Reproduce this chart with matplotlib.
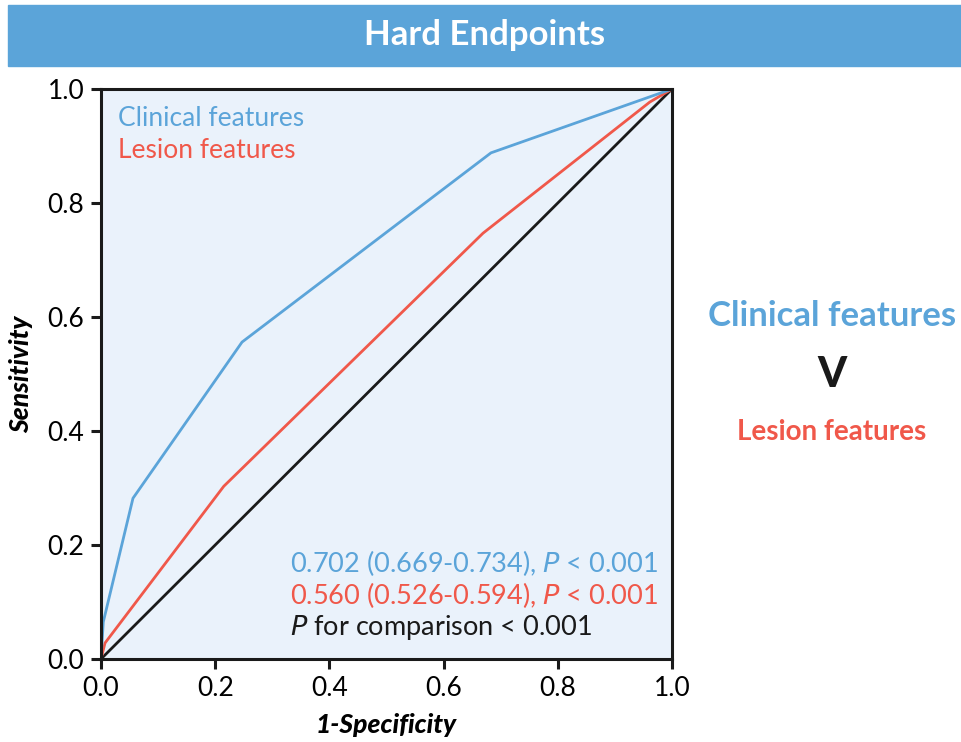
import matplotlib
matplotlib.use("Agg")
import matplotlib.pyplot as plt
from matplotlib.patches import Rectangle

plt.rcParams['font.family'] = ['Lato', 'DejaVu Sans']

BLUE = '#5BA4D9'
RED = '#F0584A'
BG = '#EAF2FB'

# ROC curves
clin_fpr = [0.0, 0.004, 0.056, 0.247, 0.683, 1.0]
clin_tpr = [0.0, 0.065, 0.282, 0.556, 0.888, 1.0]
les_fpr = [0.0, 0.007, 0.215, 0.669, 0.961, 1.0]
les_tpr = [0.0, 0.028, 0.303, 0.747, 0.977, 1.0]
ticks = [0.0, 0.2, 0.4, 0.6, 0.8, 1.0]
tick_labels = ['0.0', '0.2', '0.4', '0.6', '0.8', '1.0']

W, H = 962, 742
fig = plt.figure(figsize=(W / 100, H / 100), dpi=100)
ax = fig.add_axes([101 / W, 1 - 659 / H, (672 - 101) / W, (659 - 89) / H])
ax.set_facecolor(BG)

# header banner
fig.patches.append(Rectangle((8 / W, 1 - 66 / H), 1 - 8 / W, 61 / H,
                             transform=fig.transFigure, color=BLUE, zorder=0))
fig.text(485 / W, 1 - 35 / H, 'Hard Endpoints', color='white', fontsize=25,
         fontweight='bold', ha='center', va='center')

ax.plot([0, 1], [0, 1], color='#1a1a1a', lw=2)
ax.plot(les_fpr, les_tpr, color=RED, lw=2)
ax.plot(clin_fpr, clin_tpr, color=BLUE, lw=2)

ax.set_xlim(0, 1)
ax.set_ylim(0, 1)
ax.set_xticks(ticks)
ax.set_xticklabels(tick_labels)
ax.set_yticks(ticks)
ax.set_yticklabels(tick_labels)
ax.tick_params(direction='out', length=7, width=2.2, labelsize=19, color='#1a1a1a', pad=5)
for s in ax.spines.values():
    s.set_linewidth(2.2)
    s.set_color('#1a1a1a')

ax.set_xlabel('1-Specificity', fontsize=19, fontweight='black', style='italic', labelpad=9)
ax.set_ylabel('Sensitivity', fontsize=19, fontweight='black', style='italic', labelpad=10)

ax.text(0.03, 0.948, 'Clinical features', color=BLUE, fontsize=19, transform=ax.transAxes, va='center')
ax.text(0.03, 0.892, 'Lesion features', color=RED, fontsize=19, transform=ax.transAxes, va='center')

ax.text(0.331, 0.168, r'0.702 (0.669-0.734), $\it{P}$ < 0.001', color=BLUE, fontsize=19.5,
        transform=ax.transAxes, va='center')
ax.text(0.331, 0.112, r'0.560 (0.526-0.594), $\it{P}$ < 0.001', color=RED, fontsize=19.5,
        transform=ax.transAxes, va='center')
ax.text(0.331, 0.056, r'$\it{P}$ for comparison < 0.001', color='#1a1a1a', fontsize=19.5,
        transform=ax.transAxes, va='center')

fig.text(832 / W, 1 - 316 / H, 'Clinical features', color=BLUE, fontsize=25,
         fontweight='bold', ha='center', va='center')
fig.text(832 / W, 1 - 375 / H, 'V', color='#1a1a1a', fontsize=30,
         fontweight='black', ha='center', va='center')
fig.text(832 / W, 1 - 432 / H, 'Lesion features', color=RED, fontsize=20,
         fontweight='bold', ha='center', va='center')

fig.savefig('out.png', dpi=100)
